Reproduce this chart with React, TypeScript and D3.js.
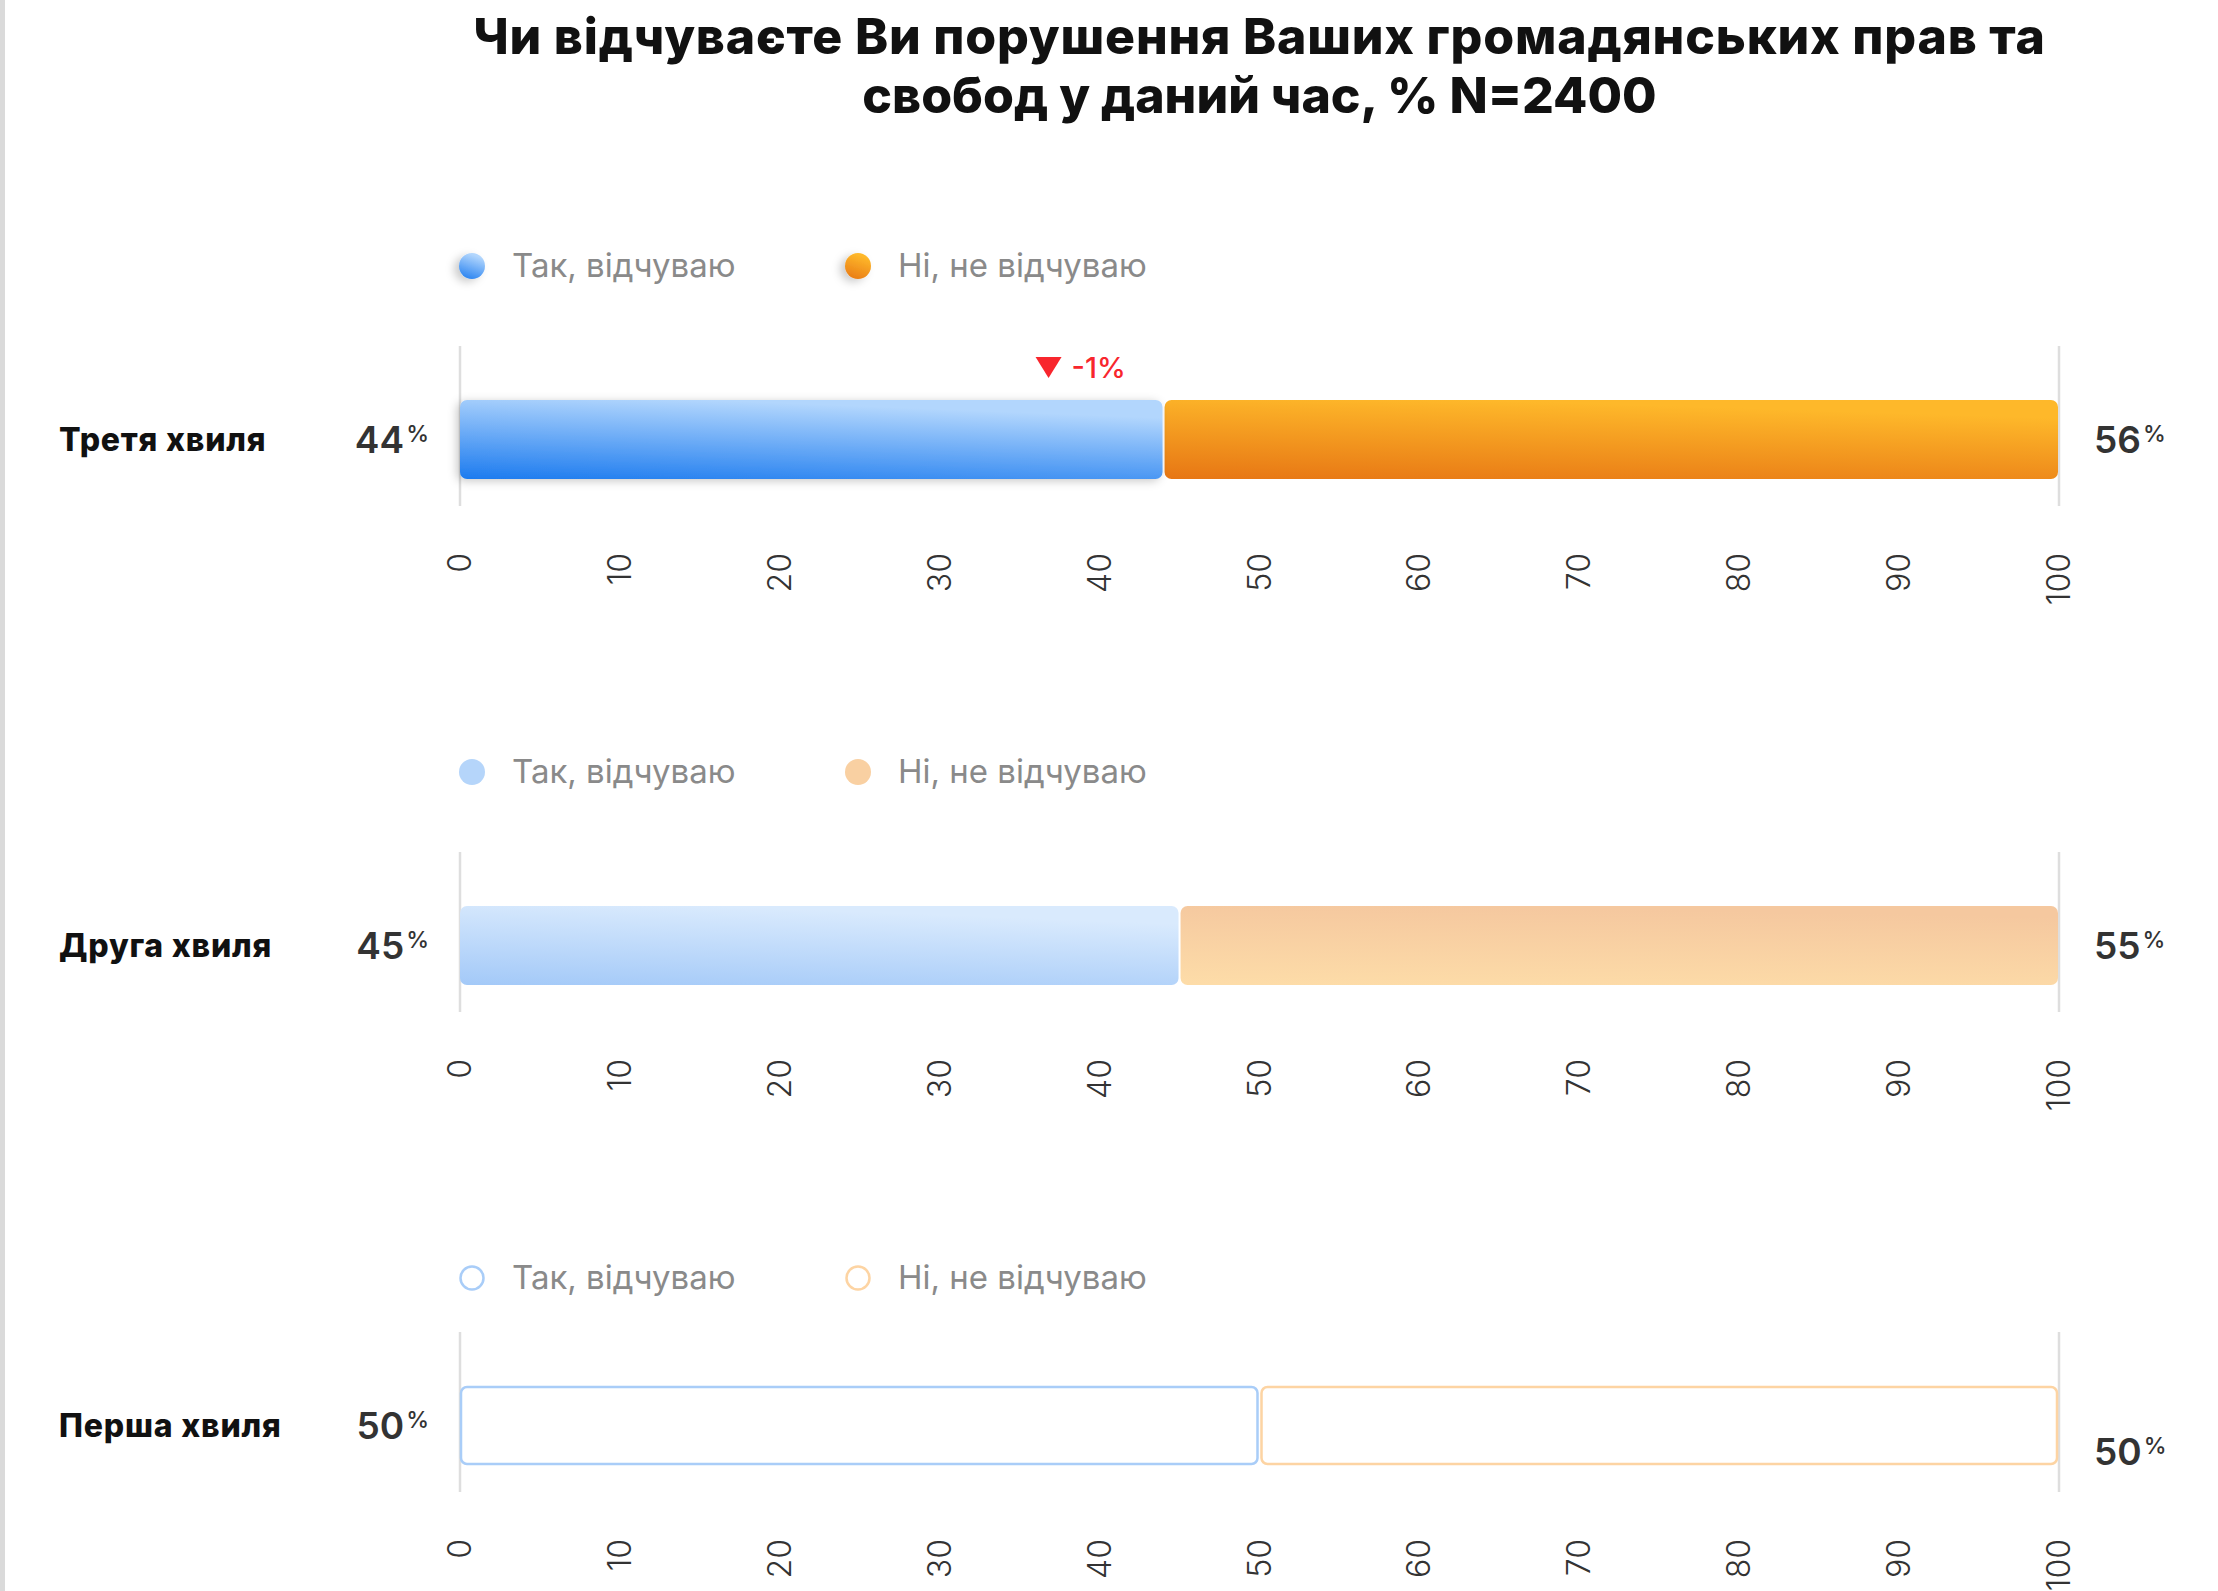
import * as d3 from 'd3';

// survey waves, newest first
const waves = ['Третя хвиля', 'Друга хвиля', 'Перша хвиля'];
const seriesNames = ['Так, відчуваю', 'Ні, не відчуваю'];
const yesValues = [44, 45, 50];
const noValues = [56, 55, 50];
const changes: (number | null)[] = [-1, null, null];
const tickValues = [0, 10, 20, 30, 40, 50, 60, 70, 80, 90, 100];
const titleLines = [
  'Чи відчуваєте Ви порушення Ваших громадянських прав та',
  'свобод у даний час, % N=2400',
];

const W = 2218;
const H = 1591;
const FONT = 'Inter, "Noto Sans", sans-serif';

// look of each wave: strong, pale, outline
const looks = ['solid', 'light', 'outline'];

export default function App() {
  const x = d3.scaleLinear().domain([0, 100]).range([460, 2059]);
  const sectionY = d3.scaleLinear().domain([0, 1]).range([266, 772]);
  const barH = 79;
  const gap = 1;

  return (
    <svg width={W} height={H} style={{ position: 'absolute', left: 0, top: 0, background: '#fff' }}>
      <defs>
        <linearGradient id="blueSolid" x1="0" y1="1" x2="0.35" y2="0">
          <stop offset="0" stopColor="#1c7bef" />
          <stop offset="1" stopColor="#b2d6fd" />
        </linearGradient>
        <linearGradient id="orangeSolid" x1="0" y1="1" x2="0.35" y2="0">
          <stop offset="0" stopColor="#e77614" />
          <stop offset="1" stopColor="#feb82a" />
        </linearGradient>
        <linearGradient id="blueLight" x1="0" y1="1" x2="0.35" y2="0">
          <stop offset="0" stopColor="#a3c9f8" />
          <stop offset="1" stopColor="#d9eafd" />
        </linearGradient>
        <linearGradient id="orangeLight" x1="0.1" y1="1" x2="0.3" y2="0">
          <stop offset="0" stopColor="#fddca8" />
          <stop offset="1" stopColor="#f5c89f" />
        </linearGradient>
        <filter id="shadow" x="-20%" y="-60%" width="140%" height="220%">
          <feDropShadow dx="-3" dy="2" stdDeviation="5" floodColor="#000" floodOpacity="0.22" />
        </filter>
        <filter id="dotShadow" x="-100%" y="-100%" width="300%" height="300%">
          <feDropShadow dx="-5" dy="3" stdDeviation="4" floodColor="#000" floodOpacity="0.2" />
        </filter>
      </defs>

      <rect x={0} y={0} width={5} height={H} fill="#dadada" />

      <text textAnchor="middle" fontFamily={FONT} fontWeight={800} fontSize={50} fill="#111">
        {titleLines.map((t, i) => (
          <tspan key={i} x={(x(0) + x(100)) / 2} y={54 + i * 59} letterSpacing={i === 0 ? 0.8 : 0}>{t}</tspan>
        ))}
      </text>

      {waves.map((wave, i) => {
        const look = looks[i];
        const legendY = sectionY(i);
        const hasCompare = i < waves.length - 1;
        const barTop = legendY + 108 + (hasCompare ? 26 : 0);
        const barMid = barTop + barH / 2;
        const yes = yesValues[i];
        const no = noValues[i];
        const legendX = [x(0) + 12, x(0) + 398];
        const yesFill = look === 'solid' ? 'url(#blueSolid)' : look === 'light' ? 'url(#blueLight)' : '#fff';
        const noFill = look === 'solid' ? 'url(#orangeSolid)' : look === 'light' ? 'url(#orangeLight)' : '#fff';
        const dotFill = look === 'solid'
          ? ['url(#blueSolid)', 'url(#orangeSolid)']
          : look === 'light' ? ['#b5d5fa', '#f9d0a2'] : ['#fff', '#fff'];
        const outlineColors = ['#a9cdf8', '#fdd4a3'];
        const change = changes[i];

        return (
          <g key={wave}>
            {/* legend */}
            {seriesNames.map((name, k) => (
              <g key={name}>
                <circle
                  cx={legendX[k]}
                  cy={legendY}
                  r={look === 'outline' ? 11.5 : 13}
                  fill={dotFill[k]}
                  stroke={look === 'outline' ? outlineColors[k] : 'none'}
                  strokeWidth={2.5}
                  filter={look === 'solid' ? 'url(#dotShadow)' : undefined}
                />
                <text x={legendX[k] + 40} y={legendY + 11} fontFamily={FONT} fontSize={33} fill="#8a8a8a">
                  {name}
                </text>
              </g>
            ))}

            {/* frame lines at 0 and 100 */}
            {[0, 100].map((v) => (
              <line key={v} x1={x(v)} x2={x(v)} y1={barTop - 54} y2={barTop + barH + 27} stroke="#dedede" strokeWidth={2.5} />
            ))}

            {/* bars */}
            {look === 'outline' ? (
              <>
                <rect x={x(0) + 1} y={barTop + 1} width={x(yes) - x(0) - gap - 2} height={barH - 2} rx={6}
                  fill="#fff" stroke={outlineColors[0]} strokeWidth={2.5} />
                <rect x={x(yes) + gap + 1} y={barTop + 1} width={x(100) - x(yes) - gap - 3} height={barH - 2} rx={6}
                  fill="#fff" stroke={outlineColors[1]} strokeWidth={2.5} />
              </>
            ) : (
              <>
                <rect x={x(yes) + gap} y={barTop} width={x(100) - x(yes) - gap - 1} height={barH} rx={7} fill={noFill} />
                <rect x={x(0)} y={barTop} width={x(yes) - x(0) - gap} height={barH} rx={7} fill={yesFill}
                  filter={look === 'solid' ? 'url(#shadow)' : undefined} />
              </>
            )}

            {/* change marker */}
            {change !== null && (
              <g transform={`translate(${x(yes)},${barTop})`} fill="#f8262d">
                <path d="M-128,-43 L-102,-43 L-115,-22 Z" />
                <text x={-92} y={-22} fontFamily={FONT} fontSize={29} fontWeight={500}>
                  {`${change}%`}
                </text>
              </g>
            )}

            {/* category label */}
            <text x={59} y={barMid + 11} fontFamily={FONT} fontWeight={800} fontSize={32} letterSpacing={0.8} fill="#111">
              {wave}
            </text>

            {/* value labels */}
            <text x={429} y={barMid + 13} textAnchor="end" fontFamily={FONT} fill="#333">
              <tspan fontSize={37} fontWeight={600}>{yes}</tspan>
              <tspan fontSize={23} fontWeight={500} dx={2} dy={-11}>%</tspan>
            </text>
            <text x={x(100) + 35} y={hasCompare ? barMid + 13 : barTop + barH} fontFamily={FONT} fill="#333">
              <tspan fontSize={37} fontWeight={600}>{no}</tspan>
              <tspan fontSize={23} fontWeight={500} dx={2} dy={-11}>%</tspan>
            </text>

            {/* ticks */}
            {tickValues.map((t) => (
              <text
                key={t}
                transform={`translate(${x(t) + 11},${barTop + barH + 74}) rotate(-90)`}
                textAnchor="end"
                fontFamily={FONT}
                fontWeight={300}
                fontSize={32}
                fill="#333"
              >
                {t}
              </text>
            ))}
          </g>
        );
      })}
    </svg>
  );
}
